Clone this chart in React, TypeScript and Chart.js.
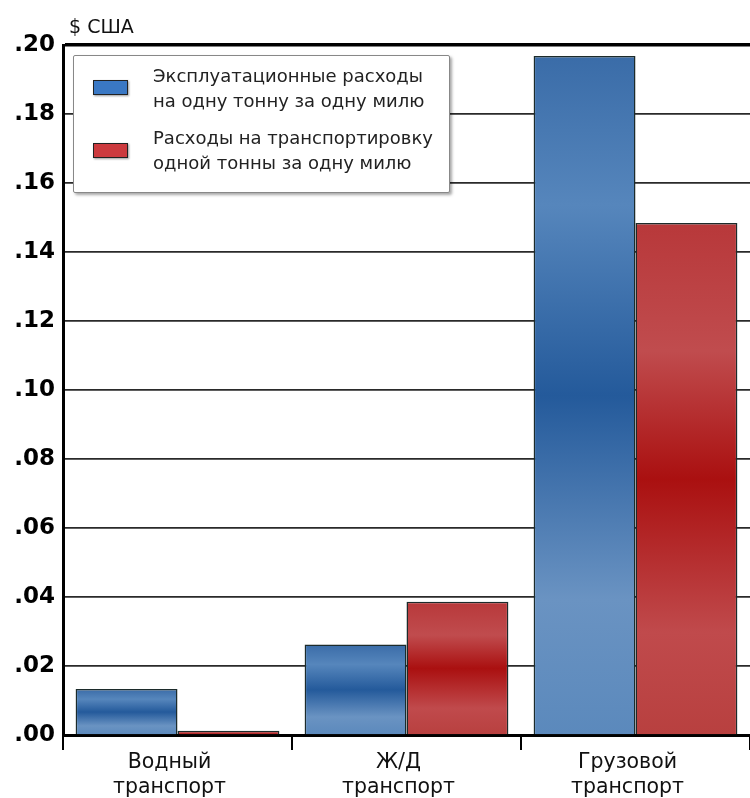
import React, { useEffect, useRef } from "react";
import { Chart, registerables } from "chart.js";

Chart.register(...registerables);

const categories: string[][] = [
  ["Водный", "транспорт"],
  ["Ж/Д", "транспорт"],
  ["Грузовой", "транспорт"],
];
const operatingCost: number[] = [0.0133, 0.0262, 0.1968];
const transportCost: number[] = [0.0012, 0.0386, 0.1484];
const seriesLabels: string[][] = [
  ["Эксплуатационные расходы", "на одну тонну за одну милю"],
  ["Расходы на транспортировку", "одной тонны за одну милю"],
];
const unitLabel = "$ США";
const yMin = 0;
const yMax = 0.2;
const yStep = 0.02;

const blueStops: [number, string][] = [
  [0, "#3a6ca8"],
  [0.22, "#5686bc"],
  [0.5, "#245a9b"],
  [0.8, "#6a93c2"],
  [1, "#5b89bc"],
];
const redStops: [number, string][] = [
  [0, "#b8383a"],
  [0.25, "#c04c4e"],
  [0.5, "#aa1010"],
  [0.8, "#c04a4c"],
  [1, "#b8403f"],
];

function gradientFor(stops: [number, string][], solid: string) {
  return (ctx: any) => {
    const chart = ctx.chart;
    if (!chart.chartArea || ctx.type !== "data") return solid;
    const y = chart.scales.y;
    const top = y.getPixelForValue(ctx.raw);
    const bottom = y.getPixelForValue(0);
    if (bottom - top < 2) return solid;
    const g = chart.ctx.createLinearGradient(0, top, 0, bottom);
    stops.forEach(([o, c]) => g.addColorStop(o, c));
    return g;
  };
}

export default function App() {
  const ref = useRef<HTMLCanvasElement | null>(null);

  useEffect(() => {
    if (!ref.current) return;
    const chart = new Chart(ref.current, {
      type: "bar",
      data: {
        labels: categories,
        datasets: [
          {
            label: seriesLabels[0].join(" "),
            data: operatingCost,
            backgroundColor: gradientFor(blueStops, "#2f63a0"),
            borderColor: "#1c2b2b",
            borderWidth: 1.5,
            categoryPercentage: 0.89,
            barPercentage: 1,
          },
          {
            label: seriesLabels[1].join(" "),
            data: transportCost,
            backgroundColor: gradientFor(redStops, "#a81515"),
            borderColor: "#1c2b2b",
            borderWidth: 1.5,
            categoryPercentage: 0.89,
            barPercentage: 1,
          },
        ],
      },
      options: {
        responsive: false,
        animation: false,
        layout: { padding: { top: 45, left: 0, right: 0, bottom: 0 } },
        plugins: {
          legend: { display: false },
          title: { display: false },
          tooltip: { enabled: false },
        },
        scales: {
          x: {
            offset: true,
            afterFit: (s: any) => {
              s.height = 63;
            },
            border: { display: true, width: 3, color: "#000" },
            grid: {
              offset: true,
              drawOnChartArea: false,
              drawTicks: true,
              tickLength: 15,
              lineWidth: 2,
              color: "#000",
            },
            ticks: {
              padding: 0,
              labelOffset: -8,
              color: "#111",
              font: {
                family: "'DejaVu Sans', sans-serif",
                size: 20.5,
                lineHeight: 1.22,
              },
            },
          },
          y: {
            min: yMin,
            max: yMax,
            afterFit: (s: any) => {
              s.width = 63;
            },
            border: { display: true, width: 3, color: "#000" },
            grid: {
              drawTicks: false,
              color: (c: any) =>
                c.tick && Math.abs(c.tick.value - yMax) < 1e-6 ? "#000" : "#2a2a2a",
              lineWidth: (c: any) =>
                c.tick && Math.abs(c.tick.value - yMax) < 1e-6 ? 3.5 : 1.7,
            },
            ticks: {
              stepSize: yStep,
              padding: 8,
              color: "#000",
              font: { family: "'DejaVu Sans', sans-serif", size: 23, weight: "bold" },
              callback: (v: any) => Number(v).toFixed(2).replace(/^0/, ""),
            },
          },
        },
      },
    });
    return () => chart.destroy();
  }, []);

  const swatch = (color: string, top: number) => (
    <div
      style={{
        position: "absolute",
        left: 19,
        top,
        width: 33,
        height: 13,
        background: color,
        border: "1.5px solid #222",
        boxShadow: "1px 1px 2px rgba(0,0,0,0.4)",
      }}
    />
  );

  const textStyle: React.CSSProperties = {
    position: "absolute",
    left: 79,
    fontFamily: "'DejaVu Sans', sans-serif",
    fontSize: 18,
    lineHeight: "25px",
    color: "#222",
    whiteSpace: "nowrap",
  };

  return (
    <div style={{ position: "absolute", left: 0, top: 0, width: 750, height: 798, background: "#fff", overflow: "hidden" }}>
      <canvas ref={ref} width={750} height={798} style={{ display: "block", width: 750, height: 798 }} />
      <div
        style={{
          position: "absolute",
          left: 69,
          top: 15,
          fontFamily: "'DejaVu Sans', sans-serif",
          fontSize: 19,
          color: "#111",
        }}
      >
        {unitLabel}
      </div>
      <div
        style={{
          position: "absolute",
          left: 73,
          top: 55,
          width: 375,
          height: 136,
          background: "#fff",
          border: "1.5px solid #888",
          borderRadius: 2,
          boxShadow: "2px 2px 3px rgba(0,0,0,0.35)",
        }}
      >
        {swatch("#3a78c4", 24)}
        <div style={{ ...textStyle, top: 7 }}>
          {seriesLabels[0][0]}
          <br />
          {seriesLabels[0][1]}
        </div>
        {swatch("#cc3a3e", 87)}
        <div style={{ ...textStyle, top: 69 }}>
          {seriesLabels[1][0]}
          <br />
          {seriesLabels[1][1]}
        </div>
      </div>
    </div>
  );
}
